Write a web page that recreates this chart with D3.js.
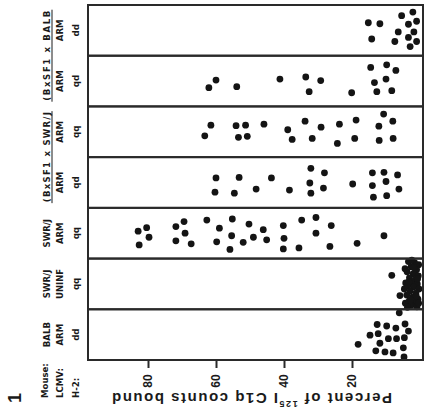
<!DOCTYPE html>
<html>
<head>
<meta charset="utf-8">
<script src="https://cdn.jsdelivr.net/npm/d3@7"></script>
<style>
  body { margin: 0; background: #fff; }
  text { fill: #1a1a1a; }
</style>
</head>
<body>
<div id="chart"></div>
<script>
// Panel labels, top to bottom (figure is printed rotated)
var strainNames = ["(BxSF1 x BALB", "(BxSF1 x SWR/J", "SWR/J", "SWR/J", "BALB"];
var strainSpan  = [2, 2, 1, 1, 1];
var lcmv  = ["ARM", "ARM", "ARM", "ARM", "ARM", "UNINF", "ARM"];
var h2    = ["dd", "qd", "qq", "qd", "qq", "qq", "dd"];

var ticks = [20, 40, 60, 80];

// Percent of 125I C1q counts bound, one array per panel (top to bottom)
var pct0 = [15.2, 11.8, 14.2, 5.4, 2.1, 3.4, 1.0, 6.4, 1.8, 7.4, 3.4, 1.0, 2.9];
var pct1 = [60.0, 62.1, 53.9, 41.2, 33.6, 29.2, 32.6, 20.1, 14.5, 9.8, 7.1, 13.4, 10.0, 12.7, 8.3];
var pct2 = [61.5, 63.3, 54.1, 51.3, 53.4, 50.8, 45.9, 38.9, 37.6, 33.8, 29.1, 31.7, 23.7, 24.3, 18.8, 19.2, 10.7, 8.0, 12.1, 12.0, 7.9];
var pct3 = [60.0, 60.3, 53.2, 54.6, 48.2, 43.7, 38.4, 32.1, 28.1, 32.4, 32.1, 28.4, 19.8, 14.0, 10.6, 6.6, 14.0, 10.0, 6.2, 13.7, 9.8];
var pct4 = [80.4, 82.9, 79.7, 82.6, 71.8, 69.4, 69.1, 71.8, 67.3, 62.7, 59.0, 59.8, 55.2, 55.4, 55.9, 52.0, 50.3, 49.0, 46.1, 45.1,
            40.2, 40.0, 40.2, 35.6, 34.8, 30.6, 30.6, 26.1, 26.5, 18.5, 10.6];
var pct5 = [8.3, 4.2, 5.9, 4.4, 4.6, 4.3, 3.4, 1.6, 0.4, 2.6, 1.0, 3.8, 2.0, 0.5, 3.1, 1.4, 2.5, 0.8, 3.6, 1.9,
            0.3, 2.9, 1.2, 3.9, 2.2, 0.6, 3.2, 1.6, 2.6, 0.9, 3.7, 1.8, 2.4, 0.7, 3.3, 1.1, 2.8, 0.4];
var pct6 = [18.2, 12.6, 9.8, 7.1, 4.4, 3.4, 14.7, 12.3, 9.3, 6.9, 4.6, 11.8, 13.0, 10.3, 7.9, 4.9, 4.7, 6.1];

// position of each dot across its panel (0 = top edge, 1 = bottom edge)
var jit0 = [0.35, 0.37, 0.67, 0.21, 0.14, 0.38, 0.32, 0.53, 0.53, 0.72, 0.64, 0.72, 0.82];
var jit1 = [0.48, 0.63, 0.61, 0.46, 0.42, 0.49, 0.71, 0.73, 0.23, 0.18, 0.29, 0.53, 0.46, 0.71, 0.69];
var jit2 = [0.37, 0.58, 0.38, 0.37, 0.61, 0.59, 0.35, 0.46, 0.65, 0.29, 0.41, 0.63, 0.35, 0.73, 0.27, 0.63, 0.15, 0.29, 0.39, 0.67, 0.63];
var jit3 = [0.41, 0.69, 0.40, 0.71, 0.63, 0.41, 0.65, 0.22, 0.31, 0.51, 0.71, 0.61, 0.53, 0.31, 0.30, 0.35, 0.56, 0.48, 0.63, 0.79, 0.76];
var jit4 = [0.39, 0.46, 0.58, 0.73, 0.37, 0.27, 0.50, 0.65, 0.71, 0.24, 0.40, 0.67, 0.22, 0.55, 0.82, 0.68, 0.32, 0.58, 0.43, 0.63,
            0.35, 0.60, 0.81, 0.79, 0.24, 0.19, 0.50, 0.35, 0.76, 0.70, 0.55];
var jit5 = [0.33, 0.48, 0.73, 0.20, 0.60, 0.88, 0.06, 0.08, 0.12, 0.16, 0.22, 0.26, 0.30, 0.34, 0.38, 0.42, 0.46, 0.50, 0.54, 0.56,
            0.60, 0.64, 0.68, 0.72, 0.76, 0.80, 0.84, 0.86, 0.92, 0.95, 0.96, 0.18, 0.03, 0.40, 0.46, 0.74, 0.82, 0.88];
var jit6 = [0.69, 0.30, 0.33, 0.37, 0.29, 0.43, 0.51, 0.48, 0.58, 0.58, 0.56, 0.67, 0.82, 0.84, 0.86, 0.76, 0.94, 0.07];

var pcts = [pct0, pct1, pct2, pct3, pct4, pct5, pct6];
var jits = [jit0, jit1, jit2, jit3, jit4, jit5, jit6];

var width = 425, height = 420;
var frameLeft = 88, frameRight = 423, frameTop = 5, frameBottom = 360;

var svg = d3.select("#chart").append("svg")
    .attr("width", width)
    .attr("height", height);

var x = d3.scaleLinear().domain([0, 100]).range([420, 80]);
var y = d3.scaleBand().domain(d3.range(lcmv.length)).range([frameTop, frameBottom]);

// dots
var points = [];
pcts.forEach(function(arr, i) {
    arr.forEach(function(v, j) { points.push({panel: i, value: v, jit: jits[i][j]}); });
});

svg.append("g").selectAll("circle")
    .data(points)
    .enter().append("circle")
    .attr("cx", function(d) { return x(d.value); })
    .attr("cy", function(d) { return y(d.panel) + d.jit * y.bandwidth(); })
    .attr("r", 3.4)
    .attr("fill", "#141414");

// panel frames
svg.append("g").selectAll("rect")
    .data(d3.range(lcmv.length))
    .enter().append("rect")
    .attr("x", frameLeft)
    .attr("y", function(d) { return y(d); })
    .attr("width", frameRight - frameLeft)
    .attr("height", y.bandwidth())
    .attr("fill", "none")
    .attr("stroke", "#2a2a2a")
    .attr("stroke-width", 2);

// tick marks along the bottom
var axis = svg.append("g")
    .attr("transform", "translate(0," + frameBottom + ")")
    .call(d3.axisBottom(x).tickValues(ticks).tickSize(8).tickFormat(""));
axis.select(".domain").remove();
axis.selectAll("line").attr("stroke", "#2a2a2a").attr("stroke-width", 2);

// tick labels, turned like the rest of the figure
svg.append("g").selectAll("text")
    .data(ticks)
    .enter().append("text")
    .attr("transform", function(d) { return "translate(" + x(d) + "," + (frameBottom + 21) + ") rotate(-90)"; })
    .attr("text-anchor", "middle")
    .attr("dominant-baseline", "central")
    .style("font", "bold 12px 'Liberation Sans', Arial, sans-serif")
    .text(function(d) { return d; });

// axis title, printed upside down
var title = svg.append("text")
    .attr("transform", "translate(252,399) rotate(180)")
    .attr("text-anchor", "middle")
    .attr("dominant-baseline", "central")
    .attr("textLength", 280)
    .attr("lengthAdjust", "spacing")
    .style("font", "bold 15px 'Liberation Sans', Arial, sans-serif");
title.append("tspan").text("Percent of ");
title.append("tspan").attr("baseline-shift", "super").style("font-size", "9px").text("125");
title.append("tspan").text("I C1q counts bound");

// row labels (rotated)
var labelFont = "bold 9.5px 'DejaVu Sans Condensed', 'DejaVu Sans', sans-serif";

function vlabel(tx, ty, str, anchor) {
    return svg.append("text")
        .attr("transform", "translate(" + tx + "," + ty + ") rotate(-90)")
        .attr("text-anchor", anchor || "middle")
        .attr("dominant-baseline", "central")
        .style("font", labelFont)
        .text(str);
}

var start = 0;
strainNames.forEach(function(name, k) {
    var span = strainSpan[k];
    var cy = (y(start) + y(start + span - 1) + y.bandwidth()) / 2;
    var t = vlabel(46, cy, name);
    if (span > 1) {
        t.attr("textLength", 90).attr("lengthAdjust", "spacing");
        svg.append("line")
            .attr("x1", 52).attr("x2", 52)
            .attr("y1", cy - 46).attr("y2", cy + 46)
            .attr("stroke", "#1a1a1a").attr("stroke-width", 1);
    }
    start += span;
});
lcmv.forEach(function(s, i) { vlabel(59, y(i) + y.bandwidth() / 2, s); });
h2.forEach(function(s, i) { vlabel(75, y(i) + y.bandwidth() / 2, s); });

vlabel(44, 398, "Mouse:", "start");
vlabel(59, 398, "LCMV:", "start");
vlabel(75, 398, "H-2:", "start");

svg.append("text")
    .attr("transform", "translate(15,398) rotate(-90)")
    .attr("text-anchor", "middle")
    .attr("dominant-baseline", "central")
    .style("font", "bold 18px 'Liberation Sans', Arial, sans-serif")
    .text("1");
</script>
</body>
</html>
